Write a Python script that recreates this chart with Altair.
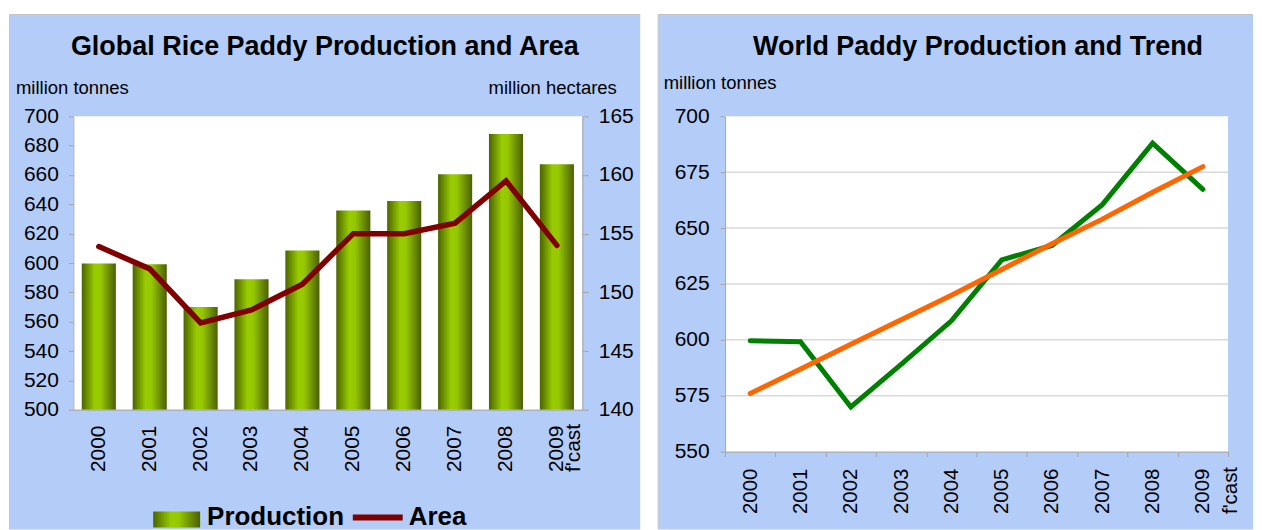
import altair as alt
import pandas as pd

# ---------------- data ----------------
years = ["2000", "2001", "2002", "2003", "2004", "2005", "2006", "2007", "2008", "2009"]
production = [599.6, 599.2, 570.0, 589.0, 608.5, 635.8, 642.2, 660.5, 688.0, 667.3]
area = [153.9, 152.0, 147.4, 148.5, 150.7, 155.0, 155.0, 155.9, 159.5, 154.0]
trend = [576.0, 587.0, 598.0, 609.0, 620.0, 631.5, 643.0, 654.0, 666.0, 677.5]

left_ticks = [500, 520, 540, 560, 580, 600, 620, 640, 660, 680, 700]
area_ticks = [140, 145, 150, 155, 160, 165]
world_ticks = [550, 575, 600, 625, 650, 675, 700]
grid_lines = [575, 600, 625, 650, 675]

left_title = "Global Rice Paddy Production and Area"
right_title = "World Paddy Production and Trend"
tonnes_label = "million tonnes"
hectares_label = "million hectares"
legend_labels = ["Production", "Area"]

# ---------------- style ----------------
FONT = "Liberation Sans"
BLUE = "#B4CCF8"
AXIS_GRAY = "#A6A6A6"
BORDER = "#C4C4C4"

df = pd.DataFrame({"year": years, "production": production, "area": area, "trend": trend})
grid_df = pd.DataFrame({"v": grid_lines})
one = alt.Data(values=[{}])

bar_gradient = alt.Gradient(
    gradient="linear", x1=0, x2=1, y1=0, y2=0,
    stops=[
        alt.GradientStop(offset=0, color="#4b6400"),
        alt.GradientStop(offset=0.38, color="#99cc00"),
        alt.GradientStop(offset=0.55, color="#96c800"),
        alt.GradientStop(offset=1, color="#4a6000"),
    ],
)

label_expr = "datum.value == '2009' ? ['2009', \"f'cast\"] : datum.value"

W1, H1 = 510, 294
W2, H2 = 504, 336
BOTTOM = 414


def panel_bg(left, right, top, bottom):
    bg = alt.Chart(one).mark_rect(fill=BLUE).encode(
        x=alt.value(left), x2=alt.value(right), y=alt.value(top), y2=alt.value(bottom))
    tb = alt.Chart(one).mark_rule(color=BORDER, strokeWidth=1).encode(
        x=alt.value(left), x2=alt.value(right), y=alt.value(top))
    lb = alt.Chart(one).mark_rule(color=BORDER, strokeWidth=1).encode(
        x=alt.value(left), y=alt.value(top), y2=alt.value(bottom))
    return [bg, tb, lb]


def white_area(w, h):
    return alt.Chart(one).mark_rect(fill="white").encode(
        x=alt.value(0), x2=alt.value(w), y=alt.value(0), y2=alt.value(h))


def text_mark(txt, x, y, size, weight="normal", align="center"):
    return alt.Chart(one).mark_text(
        text=txt, font=FONT, fontSize=size, fontWeight=weight, align=align,
        baseline="alphabetic", color="black").encode(x=alt.value(x), y=alt.value(y))


# ---------------- left panel ----------------
x_left = alt.X(
    "year:N", sort=years,
    scale=alt.Scale(paddingInner=0.33, paddingOuter=0.165),
    axis=alt.Axis(title=None, labelAngle=270, labelAlign="left", labelBaseline="middle",
                  labelPadding=62, labelFontSize=21, labelFont=FONT, labelColor="black",
                  labelExpr=label_expr, labelLineHeight=17, ticks=False,
                  domainColor=AXIS_GRAY, domainWidth=1, labelOverlap=False, zindex=1),
)

prod_scale = alt.Scale(domain=[500, 700], nice=False, zero=False)
y_prod = alt.Y(
    "production:Q", scale=prod_scale,
    axis=alt.Axis(orient="left", values=left_ticks, title=tonnes_label, titleAngle=0,
                  titleAlign="left", titleBaseline="alphabetic", titleX=-58, titleY=-23,
                  titleFont=FONT, titleFontSize=18.5, titleFontWeight="normal", titleColor="black",
                  labelFont=FONT, labelFontSize=21, labelColor="black", labelPadding=10,
                  tickSize=5, tickColor=AXIS_GRAY, domainColor=AXIS_GRAY, grid=False, zindex=1),
)

y_area = alt.Y(
    "area:Q", scale=alt.Scale(domain=[140, 165], nice=False, zero=False),
    axis=alt.Axis(orient="right", values=area_ticks, title=hectares_label, titleAngle=0,
                  titleAlign="right", titleBaseline="alphabetic", titleX=34, titleY=-23,
                  titleFont=FONT, titleFontSize=18.5, titleFontWeight="normal", titleColor="black",
                  labelFont=FONT, labelFontSize=21, labelColor="black", labelPadding=10,
                  tickSize=6, tickColor=AXIS_GRAY, domainColor=AXIS_GRAY, grid=False, zindex=1),
)

bars = alt.Chart(df).mark_bar(fill=bar_gradient).encode(
    x=x_left, y=y_prod, y2=alt.datum(500))
area_line = alt.Chart(df).mark_line(color="#800000", strokeWidth=5.5, strokeCap="round").encode(
    x=x_left, y=y_area)

leg_swatch = alt.Chart(one).mark_rect(fill=bar_gradient).encode(
    x=alt.value(80), x2=alt.value(127), y=alt.value(396), y2=alt.value(412))
leg_line = alt.Chart(one).mark_rule(color="#800000", strokeWidth=6).encode(
    x=alt.value(280), x2=alt.value(330), y=alt.value(402))

left = alt.layer(
    *panel_bg(-64, 568, -102, BOTTOM),
    white_area(W1, H1),
    bars,
    area_line,
    text_mark(left_title, 252, -61, 27, "bold"),
    leg_swatch,
    text_mark(legend_labels[0], 134, 410, 26, "bold", "left"),
    leg_line,
    text_mark(legend_labels[1], 336, 410, 26, "bold", "left"),
).resolve_scale(y="independent").properties(width=W1, height=H1)

# ---------------- right panel ----------------
x_right = alt.X(
    "year:N", sort=years,
    scale=alt.Scale(paddingInner=0, paddingOuter=0),
    axis=alt.Axis(title=None, labelAngle=270, labelAlign="left", labelBaseline="middle",
                  labelPadding=57, labelFontSize=20.5, labelFont=FONT, labelColor="black",
                  labelExpr=label_expr, labelLineHeight=28, tickBand="extent", tickSize=5,
                  tickColor=AXIS_GRAY, domainColor=AXIS_GRAY, labelOverlap=False, zindex=1),
)

world_scale = alt.Scale(domain=[550, 700], nice=False, zero=False)
y_world_axis = alt.Axis(orient="left", values=world_ticks, title=tonnes_label, titleAngle=0,
                        titleAlign="left", titleBaseline="alphabetic", titleX=-62, titleY=-28,
                        titleFont=FONT, titleFontSize=18.5, titleFontWeight="normal",
                        titleColor="black", labelFont=FONT, labelFontSize=21, labelColor="black",
                        labelPadding=11, tickSize=5, tickColor=AXIS_GRAY, domainColor=AXIS_GRAY,
                        grid=False, zindex=1)

grid = alt.Chart(grid_df).mark_rule(color="#D9D9D9", strokeWidth=1.5).encode(
    y=alt.Y("v:Q", scale=world_scale, axis=y_world_axis))
green = alt.Chart(df).mark_line(color="#008000", strokeWidth=5, strokeCap="round").encode(
    x=x_right, y=alt.Y("production:Q", scale=world_scale, axis=y_world_axis))
orange = alt.Chart(df).mark_line(color="#FF6600", strokeWidth=5, strokeCap="round").encode(
    x=x_right, y=alt.Y("trend:Q", scale=world_scale, axis=y_world_axis))

right = alt.layer(
    *panel_bg(-67, 529, -102, BOTTOM),
    white_area(W2, H2),
    grid,
    green,
    orange,
    text_mark(right_title, 253.5, -61, 27, "bold"),
).properties(width=W2, height=H2)

chart = alt.hconcat(left, right, spacing=16).properties(
    padding={"left": 0.5, "top": 5, "right": 0, "bottom": 0}, background="white"
).configure_view(strokeWidth=0).configure(font=FONT)

chart.save("out.html", embed_options={"renderer": "svg", "actions": False})
